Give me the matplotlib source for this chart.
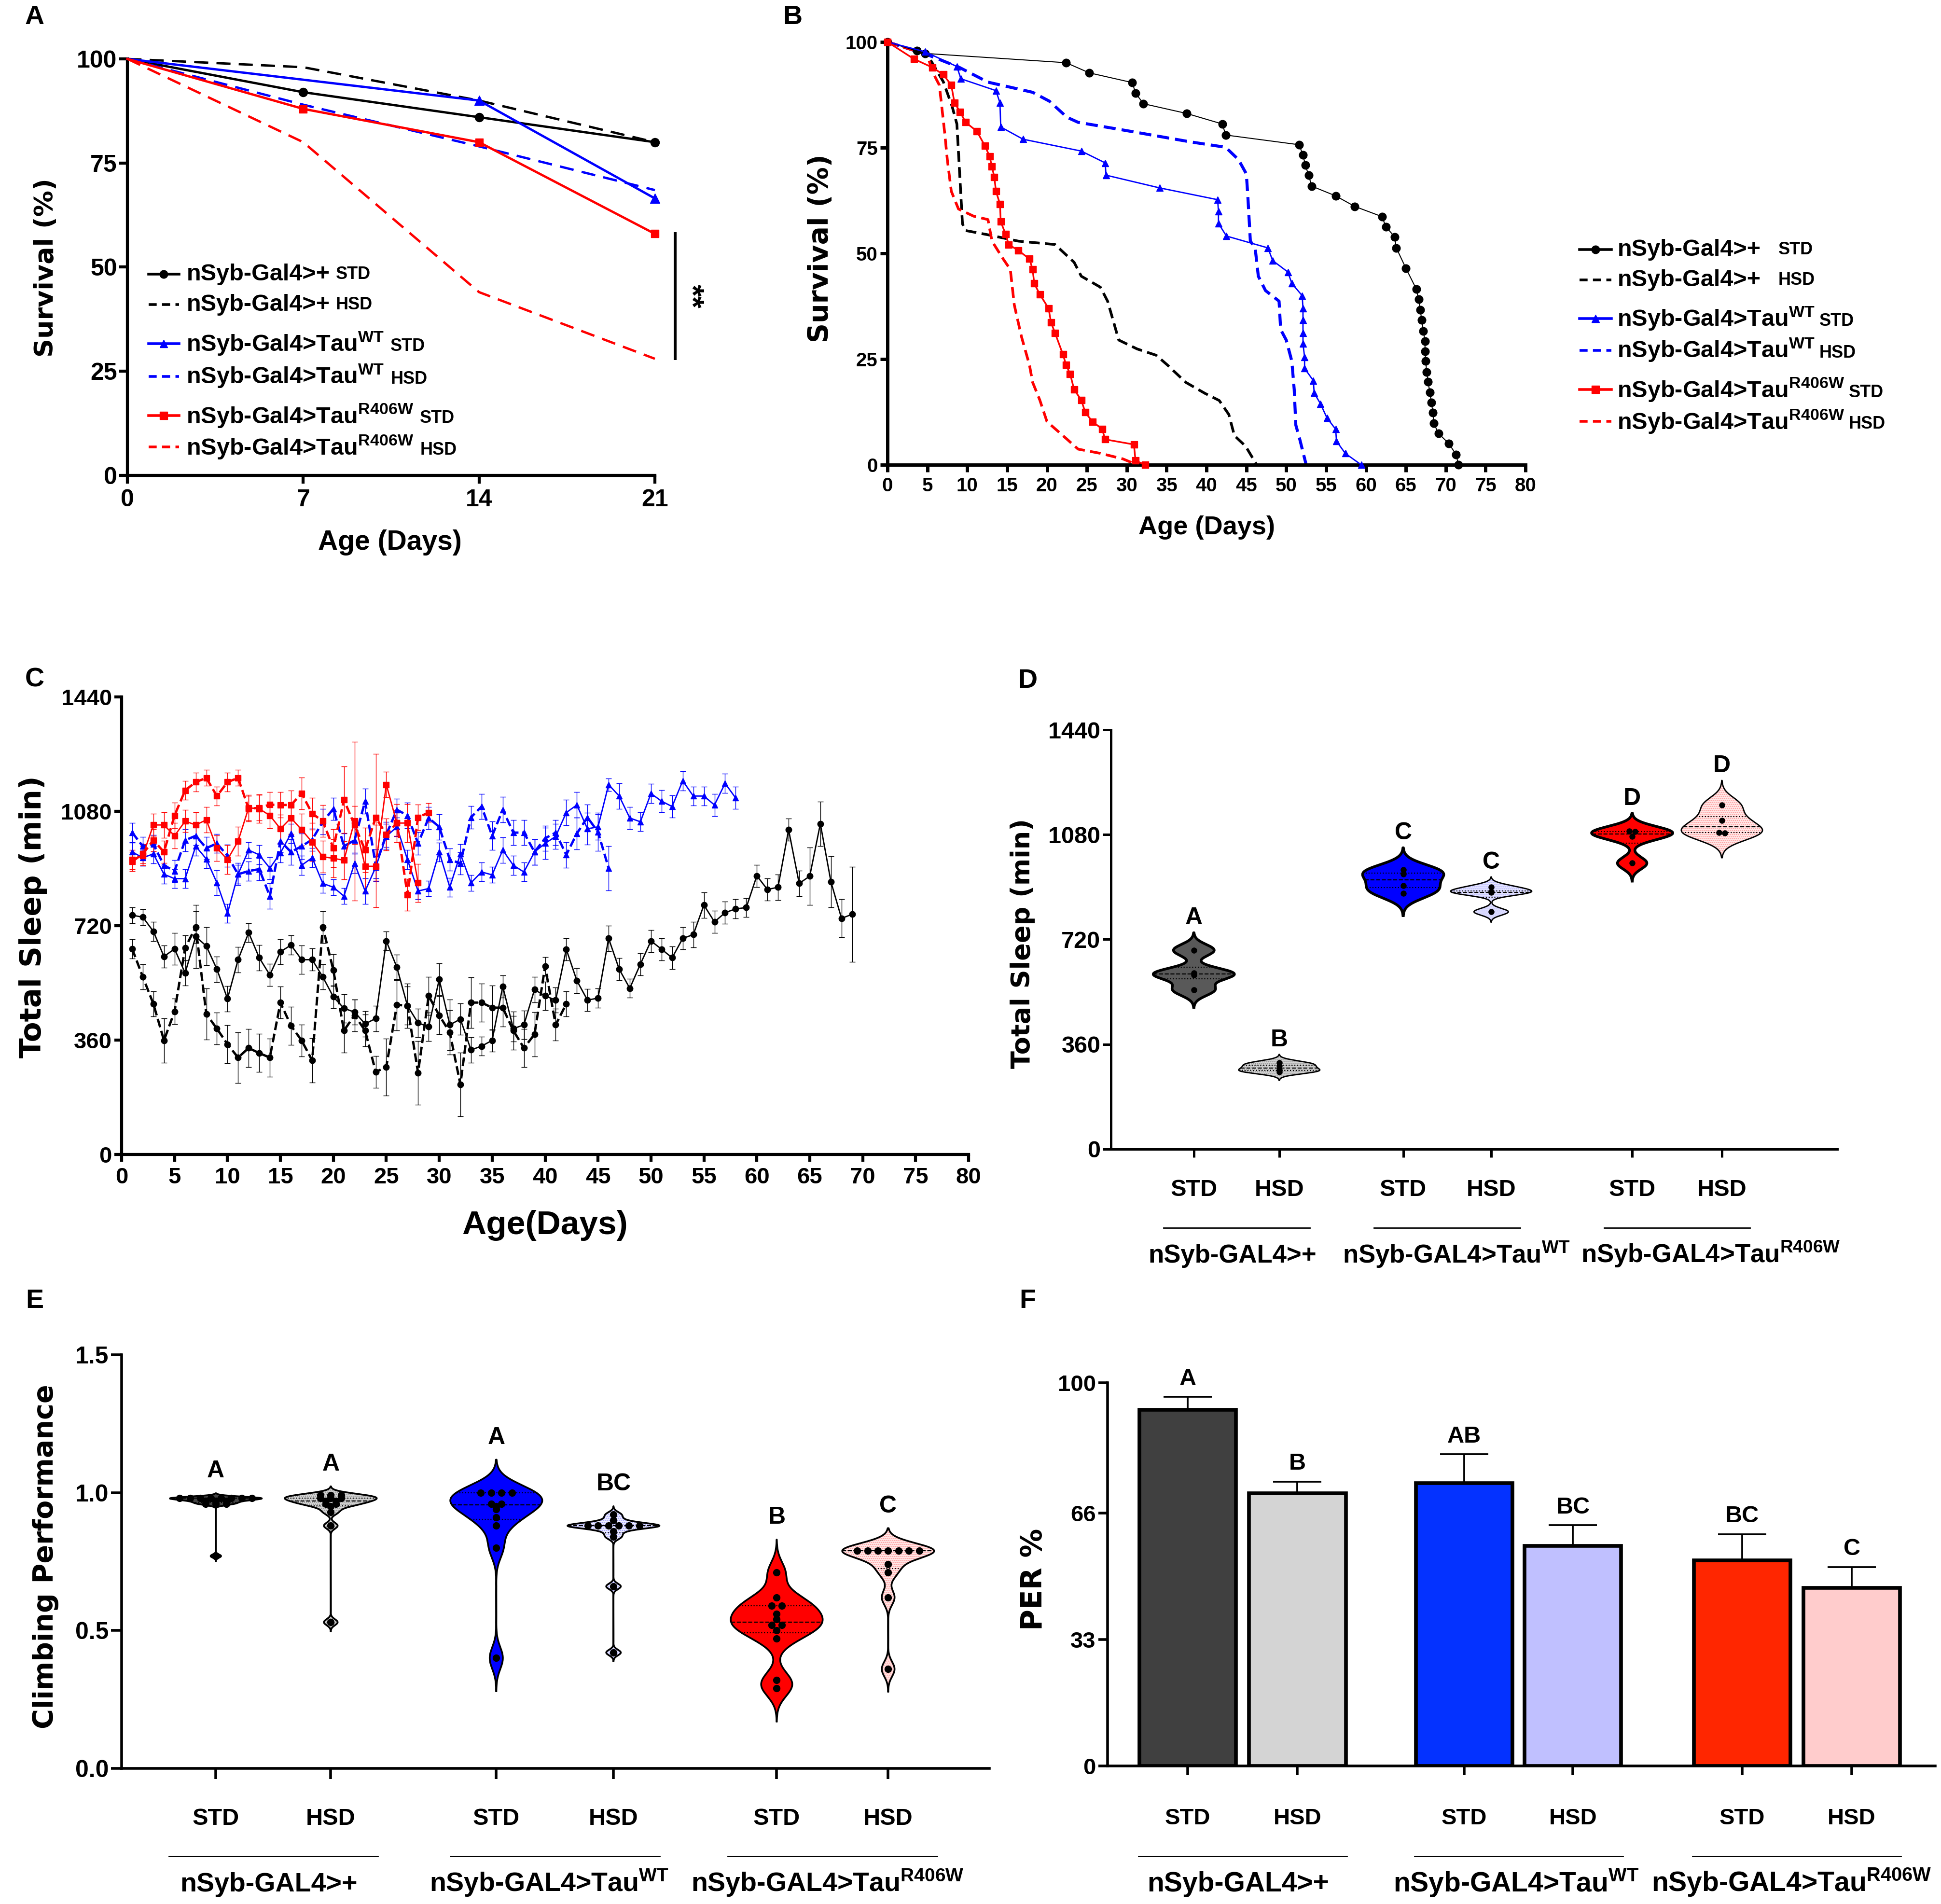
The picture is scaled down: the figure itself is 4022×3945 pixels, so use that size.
import numpy as np
import matplotlib
matplotlib.use("Agg")
import matplotlib.pyplot as plt
from matplotlib.transforms import blended_transform_factory

plt.rcParams['font.family'] = ['Liberation Sans', 'DejaVu Sans']
plt.rcParams['font.weight'] = 'bold'
plt.rcParams['mathtext.fontset'] = 'custom'
plt.rcParams['mathtext.rm'] = 'Liberation Sans:bold'
plt.rcParams['mathtext.it'] = 'Liberation Sans:bold'
plt.rcParams['mathtext.bf'] = 'Liberation Sans:bold'
plt.rcParams['hatch.linewidth'] = 1.2
HEAVY = 'DejaVu Sans'
BLACK, BLUE, RED = 'black', '#0000ff', '#ff0000'

# ---------------- data ----------------
# A: survival, 21 days
a_days = [0, 7, 14, 21]
a_ctrl_std = [100, 92, 86, 80]
a_ctrl_hsd = [100, 98, 90, 80]
a_wt_std_days = [0, 14, 21]
a_wt_std = [100, 90, 66.5]
a_wt_hsd = [100, 89, 79, 68.5]
a_r406w_std = [100, 88, 80, 58]
a_r406w_hsd = [100, 80, 44, 28]

# B: lifespan
b_ctrl_std_day = [0, 3.7, 4.7, 22.4, 25.3, 30.7, 31.1, 32.1, 37.5, 42.0, 42.4, 51.6, 52.1, 52.4, 52.8,
                  53.2, 56.2, 58.6, 62.0, 62.5, 63.6, 63.8, 65.0, 66.3, 66.6, 66.8, 67.0, 67.2, 67.4,
                  67.4, 67.5, 67.6, 67.8, 68.0, 68.2, 68.4, 68.5, 69.1, 70.4, 71.3, 71.6]
b_ctrl_std = [100, 97.9, 97.3, 95.1, 92.7, 90.4, 87.9, 85.4, 83.1, 80.6, 78.0, 75.7, 73.3, 70.9, 68.5,
              65.9, 63.6, 61.1, 58.7, 56.3, 53.9, 51.3, 46.5, 41.6, 39.1, 36.6, 34.2, 31.6, 29.2,
              26.8, 24.5, 21.9, 19.6, 17.1, 14.7, 12.3, 9.8, 7.4, 5.0, 2.4, 0]
b_ctrl_hsd_day = [0, 5, 7.0, 8.1, 8.7, 9.4, 9.8, 12.6, 16.4, 21.0, 23.4, 24.3, 26.7, 27.6, 29.0, 31.3,
                  33.7, 35.1, 37.4, 39.8, 41.6, 42.8, 43.5, 44.9, 46.3]
b_ctrl_hsd = [100, 97, 90.6, 84.8, 80.6, 57.0, 55.4, 54.4, 52.9, 52.1, 47.9, 44.6, 42.0, 38.7, 29.5, 27.4,
              25.9, 23.6, 19.5, 16.9, 15.2, 11.9, 6.9, 4.4, 0]
b_wt_std_day = [0, 4.7, 8.7, 9.2, 13.6, 14.1, 14.2, 17.0, 24.3, 27.3, 27.4, 34.1, 41.4, 41.5, 41.5, 42.5,
                47.7, 48.3, 50.2, 50.7, 52.0, 52.1, 52.1, 52.1, 52.1, 52.3, 52.3, 53.4, 53.5, 54.3, 55.1,
                56.2, 56.3, 57.4, 59.4]
b_wt_std = [100, 97.7, 94.2, 91.3, 88.5, 85.6, 79.9, 77.0, 74.2, 71.4, 68.5, 65.5, 62.7, 59.9, 57.1, 54.1,
            51.3, 48.3, 45.6, 42.9, 40.0, 37.0, 34.3, 31.2, 28.6, 25.5, 22.8, 19.9, 17.0, 14.4, 11.1,
            8.4, 5.6, 2.7, 0]
b_wt_hsd_day = [0, 5, 9, 12.6, 18.2, 20.3, 22.5, 23.9, 30.4, 37.9, 42.4, 44.0, 45.0, 45.2, 45.5, 46.1,
                46.5, 47.4, 49.1, 49.3, 50.0, 50.7, 51.0, 51.2, 51.7, 52.5]
b_wt_hsd = [100, 97, 94, 90.5, 88.1, 86.0, 82.2, 81.0, 78.9, 76.4, 75.1, 72.2, 68.8, 63.0, 52.9, 51.3,
            44.6, 41.2, 38.7, 32.0, 29.5, 24.5, 17.8, 9.4, 6.0, 0]
b_r406w_std_day = [0, 3.3, 5.6, 7.0, 8.0, 8.4, 9.1, 9.8, 11.2, 12.2, 12.8, 13.1, 13.4, 13.6, 14.1, 14.2,
                   14.8, 15.2, 16.4, 17.8, 18.2, 18.4, 19.1, 20.2, 20.5, 21.0, 22.0, 22.4, 22.9, 23.4,
                   24.3, 24.8, 25.7, 26.9, 27.3, 30.9, 31.1, 32.3]
b_r406w_std = [100, 96, 94, 92.3, 89.8, 85.6, 83.5, 81.0, 78.9, 75.5, 73.0, 70.5, 68.0, 64.7, 61.7, 57.5,
               54.6, 52.1, 50.7, 48.7, 46.2, 42.9, 40.3, 37.0, 33.7, 31.2, 26.1, 23.6, 21.5, 17.8,
               15.3, 12.4, 10.2, 8.5, 6.0, 4.8, 1.0, 0]
b_r406w_hsd_day = [0, 5, 5.6, 6.5, 6.8, 7.2, 7.5, 8.0, 8.9, 10.8, 12.6, 13.1, 14.5, 15.4, 15.9, 16.8,
                   17.8, 18.2, 19.1, 20.0, 22.0, 23.9, 26.7, 29.5, 31.3]
b_r406w_hsd = [100, 97, 93.1, 89.8, 84.8, 78.0, 72.2, 64.7, 60.5, 58.8, 58.0, 52.9, 48.7, 46.2, 37.8, 30.3,
               23.6, 19.5, 15.3, 10.2, 6.9, 3.7, 2.7, 1.4, 0]

# C: daily total sleep (mean, sem)
c_ctrl_std = [753, 747, 702, 623, 647, 571, 686, 656, 583, 490,
              613, 698, 619, 565, 638, 659, 613, 613, 559, 496,
              460, 448, 411, 428, 672, 589, 468, 414, 402, 551,
              408, 426, 329, 341, 359, 529, 396, 408, 519, 499,
              486, 646, 547, 486, 492, 680, 583, 523, 599, 672,
              646, 619, 680, 692, 785, 732, 761, 773, 777, 877,
              834, 841, 1022, 853, 876, 1041, 858, 743, 756]
c_ctrl_std_err = [25, 25, 30, 35, 50, 40, 100, 60, 40, 40,
                  40, 30, 40, 35, 40, 30, 45, 35, 40, 35,
                  45, 40, 40, 40, 30, 40, 60, 45, 45, 50,
                  80, 50, 40, 30, 35, 35, 40, 45, 40, 45,
                  40, 35, 40, 35, 30, 40, 35, 30, 35, 35,
                  35, 35, 35, 40, 40, 35, 35, 30, 30, 35,
                  35, 40, 35, 40, 90, 70, 80, 60, 150]
c_ctrl_hsd = [647, 559, 474, 359, 450, 650, 716, 442, 396, 347,
              305, 335, 319, 305, 478, 405, 359, 296, 716, 580,
              390, 438, 390, 260, 275, 471, 468, 257, 499, 438,
              384, 220, 478, 478, 462, 462, 390, 335, 378, 592,
              408, 474]
c_ctrl_hsd_err = [30, 40, 40, 70, 40, 40, 50, 80, 50, 60,
                  80, 60, 60, 60, 50, 60, 50, 70, 50, 50,
                  70, 50, 50, 50, 90, 80, 70, 100, 60, 60,
                  70, 100, 80, 60, 70, 60, 60, 60, 70, 30,
                  50, 40]
c_wt_std = [952, 934, 946, 882, 868, 868, 970, 930, 855, 759,
            882, 958, 943, 901, 949, 1010, 910, 934, 853, 841,
            813, 916, 829, 904, 1001, 1031, 928, 829, 837, 952,
            841, 946, 855, 889, 880, 958, 910, 889, 952, 979,
            1001, 1076, 1100, 1025, 1031, 1164, 1128, 1059, 1047, 1136,
            1112, 1095, 1176, 1128, 1128, 1100, 1168, 1122]
c_wt_std_err = [30, 25, 30, 30, 30, 30, 30, 30, 40, 30,
                30, 25, 30, 35, 30, 30, 30, 30, 30, 25,
                25, 30, 40, 35, 40, 30, 30, 25, 25, 30,
                30, 30, 25, 30, 25, 40, 30, 30, 40, 50,
                40, 40, 40, 50, 40, 20, 40, 35, 30, 30,
                35, 35, 30, 30, 30, 35, 30, 35]
c_wt_hsd = [1013, 970, 976, 910, 892, 989, 1003, 964, 979, 940,
            882, 892, 898, 813, 986, 952, 970, 991, 1047, 1088,
            970, 989, 1112, 910, 1007, 1085, 1067, 979, 1059, 1031,
            928, 916, 1061, 1095, 1003, 1085, 1013, 1013, 952, 995,
            1013, 943, 1010, 1061, 1015, 901]
c_wt_hsd_err = [30, 30, 30, 35, 35, 35, 30, 35, 30, 35,
                35, 30, 35, 40, 35, 40, 40, 35, 40, 35,
                40, 40, 40, 50, 40, 35, 40, 35, 35, 40,
                35, 35, 35, 40, 45, 40, 40, 40, 40, 40,
                40, 40, 50, 40, 60, 70]
c_r406w_std = [928, 940, 1037, 1037, 1003, 1049, 1037, 1053, 964, 928,
               986, 1091, 1088, 1067, 1025, 1059, 1022, 983, 937, 932,
               926, 1049, 907, 907, 1164, 1043, 1043, 855]
c_r406w_std_err = [30, 30, 35, 40, 40, 35, 40, 40, 40, 45,
                   45, 40, 45, 40, 45, 50, 50, 60, 50, 60,
                   60, 250, 80, 130, 40, 40, 60, 60]
c_r406w_hsd = [922, 946, 989, 952, 1067, 1146, 1172, 1185, 1128, 1172,
               1185, 1088, 1091, 1101, 1100, 1100, 1136, 1073, 1049, 964,
               1116, 1037, 958, 1061, 1007, 1043, 817, 1061, 1076]
c_r406w_hsd_err = [30, 30, 35, 35, 40, 30, 30, 25, 30, 30,
                   25, 40, 40, 40, 40, 45, 50, 50, 50, 60,
                   105, 60, 70, 200, 50, 60, 50, 40, 30]

# D: total sleep per fly group
d_vals = [[683, 605, 598, 547], [297, 286, 272, 265],
          [959, 944, 904, 878], [900, 883, 881, 815],
          [1092, 1090, 1073, 982], [1182, 1128, 1087, 1085]]
d_letters = ['A', 'B', 'C', 'C', 'D', 'D']

# E: climbing
e_vals = [[0.98, 0.98, 0.98, 0.98, 0.98, 0.98, 0.98, 0.98, 0.97, 0.97, 0.97, 0.96, 0.96, 0.96, 0.77],
          [0.99, 0.99, 0.99, 0.98, 0.98, 0.98, 0.97, 0.97, 0.96, 0.96, 0.95, 0.93, 0.88, 0.53],
          [1.0, 1.0, 1.0, 1.0, 0.96, 0.96, 0.95, 0.94, 0.91, 0.88, 0.80, 0.40],
          [0.92, 0.90, 0.88, 0.88, 0.88, 0.88, 0.88, 0.88, 0.86, 0.84, 0.66, 0.42],
          [0.71, 0.62, 0.59, 0.59, 0.56, 0.54, 0.52, 0.52, 0.50, 0.47, 0.32, 0.29],
          [0.79, 0.79, 0.79, 0.79, 0.79, 0.79, 0.79, 0.74, 0.71, 0.62, 0.36]]
e_letters = ['A', 'A', 'A', 'BC', 'B', 'C']

# F: PER
f_means = [93.0, 71.2, 73.8, 57.4, 53.6, 46.5]
f_sem = [3.3, 3.0, 7.5, 5.4, 6.9, 5.4]
f_letters = ['A', 'B', 'AB', 'BC', 'BC', 'C']

diet_labels = ['STD', 'HSD', 'STD', 'HSD', 'STD', 'HSD']
genotypes = ['nSyb-GAL4>+', r'nSyb-GAL4>Tau$^{\mathrm{WT}}$', r'nSyb-GAL4>Tau$^{\mathrm{R406W}}$']

# ---------------- figure ----------------
W, H = 4022, 3945
fig = plt.figure(figsize=(W / 100, H / 100), dpi=100)


def box(left, right, top, bottom):
    return [left / W, 1 - bottom / H, (right - left) / W, (bottom - top) / H]


def ftext(x, y, s, **kw):
    fig.text(x / W, 1 - y / H, s, **kw)


def style(ax, lw, tlen, tsize, xpad=3.5):
    for s in ['top', 'right']:
        ax.spines[s].set_visible(False)
    for s in ['left', 'bottom']:
        ax.spines[s].set_linewidth(lw)
    ax.tick_params(direction='out', length=tlen, width=lw, labelsize=tsize)
    ax.tick_params(axis='x', pad=xpad)


DASH = (6, 3.5)

# ---- A ----
axA = fig.add_axes(box(264, 1357, 122, 985))
style(axA, 4.5, 12, 36, xpad=8)
kw = dict(clip_on=False, lw=3.5, markevery=slice(1, None), zorder=3)
axA.plot(a_days, a_ctrl_std, color=BLACK, marker='o', ms=13, **kw)
axA.plot(a_days, a_ctrl_hsd, color=BLACK, dashes=DASH, **kw)
axA.plot(a_wt_std_days, a_wt_std, color=BLUE, marker='^', ms=14, **kw)
axA.plot(a_days, a_wt_hsd, color=BLUE, dashes=DASH, **kw)
axA.plot(a_days, a_r406w_std, color=RED, marker='s', ms=12, **kw)
axA.plot(a_days, a_r406w_hsd, color=RED, dashes=DASH, **kw)
axA.set_xlim(0, 21)
axA.set_ylim(0, 100)
axA.set_xticks(a_days)
axA.set_yticks([0, 25, 50, 75, 100])
sig_x = a_days[-1] + 0.8
axA.plot([sig_x, sig_x], [a_r406w_hsd[-1], a_r406w_std[-1]], color=BLACK, lw=4.3, clip_on=False)
axA.text(sig_x + 0.6, (a_r406w_hsd[-1] + a_r406w_std[-1]) / 2, '**', rotation=270,
         ha='center', va='center', fontsize=46)

legend_rows = [
    (BLACK, '-', 'o', 'nSyb-Gal4>+', 'STD'),
    (BLACK, '--', None, 'nSyb-Gal4>+', 'HSD'),
    (BLUE, '-', '^', r'nSyb-Gal4>Tau$^{\mathrm{WT}}$', 'STD'),
    (BLUE, '--', None, r'nSyb-Gal4>Tau$^{\mathrm{WT}}$', 'HSD'),
    (RED, '-', 's', r'nSyb-Gal4>Tau$^{\mathrm{R406W}}$', 'STD'),
    (RED, '--', None, r'nSyb-Gal4>Tau$^{\mathrm{R406W}}$', 'HSD'),
]


def draw_legend(ax, x0, x1, xt, ys, gaps, lw):
    for (col, ls, mk, main, tail), y, gap in zip(legend_rows, ys, gaps):
        if ls == '--':
            ax.plot([x0, x1], [y, y], transform=ax.transAxes, color=col, lw=lw, dashes=(3, 2), clip_on=False)
        else:
            ax.plot([x0, x1], [y, y], transform=ax.transAxes, color=col, lw=lw, clip_on=False)
            ax.plot([(x0 + x1) / 2], [y], transform=ax.transAxes, color=col, marker=mk, ms=12, clip_on=False)
        t = ax.text(xt, y, main, transform=ax.transAxes, fontsize=35, va='center', ha='left')
        ax.annotate(tail, xy=(1, 0), xycoords=t, xytext=(gap, 9), textcoords='offset points',
                    fontsize=26, va='baseline', ha='left')


draw_legend(axA, 0.040, 0.098, 0.112, [0.483, 0.410, 0.316, 0.238, 0.144, 0.068],
            [9, 9, 9, 9, 9, 9], 4)

# ---- B ----
axB = fig.add_axes(box(1839, 3161, 87, 963))
style(axB, 5, 11, 29, xpad=7)
axB.plot(b_ctrl_std_day, b_ctrl_std, color=BLACK, lw=1.5, marker='o', ms=12, clip_on=False, zorder=3)
axB.plot(b_ctrl_hsd_day, b_ctrl_hsd, color=BLACK, lw=4, dashes=(4, 2), clip_on=False)
axB.plot(b_wt_std_day, b_wt_std, color=BLUE, lw=2, marker='^', ms=10, clip_on=False, zorder=3)
axB.plot(b_wt_hsd_day, b_wt_hsd, color=BLUE, lw=4.5, dashes=(4, 2), clip_on=False)
axB.plot(b_r406w_std_day, b_r406w_std, color=RED, lw=2.5, marker='s', ms=10, clip_on=False, zorder=3)
axB.plot(b_r406w_hsd_day, b_r406w_hsd, color=RED, lw=4, dashes=(4, 2), clip_on=False)
axB.set_xlim(0, 80)
axB.set_ylim(0, 100)
axB.set_xticks(np.arange(0, 81, 5))
axB.set_yticks([0, 25, 50, 75, 100])
draw_legend(axB, 1.085, 1.135, 1.144, [0.509, 0.437, 0.346, 0.271, 0.178, 0.103],
            [26, 26, 6, 6, 6, 6], 4)

# ---- C ----
axC = fig.add_axes(box(252, 2007, 1444, 2392))
style(axC, 4.5, 11, 34, xpad=8)
c_series = [
    (c_ctrl_std, c_ctrl_std_err, BLACK, '-', 'o', 2),
    (c_ctrl_hsd, c_ctrl_hsd_err, BLACK, '--', 'o', 3.5),
    (c_wt_std, c_wt_std_err, BLUE, '-', '^', 2),
    (c_wt_hsd, c_wt_hsd_err, BLUE, '--', '^', 3.5),
    (c_r406w_std, c_r406w_std_err, RED, '-', 's', 2),
    (c_r406w_hsd, c_r406w_hsd_err, RED, '--', 's', 3.5),
]
for vals, err, col, ls, mk, lw in c_series:
    days = np.arange(1, len(vals) + 1)
    axC.errorbar(days, vals, yerr=err, color=col, ls=ls, lw=lw, marker=mk, ms=9,
                 elinewidth=1, capsize=4, capthick=1)
axC.set_xlim(0, 80)
axC.set_ylim(0, 1440)
axC.set_xticks(np.arange(0, 81, 5))
axC.set_yticks([0, 360, 720, 1080, 1440])


# ---- violin helpers ----
def violin(ax, pos, vals, face, halfw, lw, hatch_col=None):
    v = np.asarray(vals, dtype=float)
    q1, med, q3 = np.percentile(v, [25, 50, 75])
    spread = min(v.std(ddof=1), (q3 - q1) / 1.34)
    if spread <= 0:
        spread = v.std(ddof=1)
    bw = 0.9 * spread * len(v) ** -0.2
    grid = np.linspace(v.min() - 3 * bw, v.max() + 3 * bw, 600)
    dens = np.exp(-0.5 * ((grid[:, None] - v[None, :]) / bw) ** 2).sum(axis=1)
    half = dens / dens.max() * halfw
    if hatch_col:
        ax.fill_betweenx(grid, pos - half, pos + half, facecolor=face, edgecolor=hatch_col,
                         hatch='....', linewidth=0, zorder=2)
    else:
        ax.fill_betweenx(grid, pos - half, pos + half, facecolor=face, linewidth=0, zorder=2)
    ax.plot(np.r_[pos - half, (pos + half)[::-1]], np.r_[grid, grid[::-1]], color='black',
            lw=lw, zorder=3, solid_joinstyle='round')
    for q, ls in ((q1, ':'), (med, '--'), (q3, ':')):
        w = np.interp(q, grid, half)
        ax.plot([pos - w, pos + w], [q, q], color='black', lw=1.6, ls=ls, zorder=3)
    return grid[-1]


def dot_offsets(vals, res, step):
    v = np.asarray(vals, dtype=float)
    keys = np.round(v / res)
    off = np.zeros(len(v))
    for k in np.unique(keys):
        idx = np.flatnonzero(keys == k)
        off[idx] = (np.arange(len(idx)) - (len(idx) - 1) / 2) * step
    return off


def group_labels(ax, pos, name_x, std_y, line_y, name_y, half, small, big):
    tr = blended_transform_factory(ax.transData, ax.transAxes)
    for p, lab in zip(pos, diet_labels):
        ax.text(p, std_y, lab, transform=tr, ha='center', va='baseline', fontsize=small)
    for i, (nx, name) in enumerate(zip(name_x, genotypes)):
        c = (pos[2 * i] + pos[2 * i + 1]) / 2
        ax.plot([c - half, c + half], [line_y, line_y], transform=tr, color='black', lw=2, clip_on=False)
        ax.text(nx, name_y, name, transform=tr, ha='center', va='baseline', fontsize=big)


v_faces = ['#595959', '#d9d9d9', '#0000ff', '#f0f0ff', '#ff0000', '#ffe8e8']
v_hatch = [None, '#8a8a8a', None, '#9a9aff', None, '#ff9a9a']

# ---- D ----
axD = fig.add_axes(box(2302, 3807, 1512, 2381))
style(axD, 3.6, 12, 35)
d_pos = [0, 1, 2.45, 3.48, 5.13, 6.18]
for i, (p, vals) in enumerate(zip(d_pos, d_vals)):
    top = violin(axD, p, vals, v_faces[i], 0.475, 4 if i % 2 == 0 else 2, v_hatch[i])
    axD.plot(p + dot_offsets(vals, 5, 0.07), vals, 'o', color='black', ms=8, ls='none', zorder=4)
    axD.text(p, top + 50, d_letters[i], ha='center', va='center', fontsize=36)
axD.set_xlim(-0.97, 7.53)
axD.set_ylim(0, 1440)
axD.set_yticks([0, 360, 720, 1080, 1440])
axD.set_xticks(d_pos)
axD.set_xticklabels([])
group_labels(axD, d_pos, [0.45, 3.07, 6.05], -0.112, -0.1876, -0.271, 0.855, 35, 38)

# ---- E ----
axE = fig.add_axes(box(252, 2050, 2807, 3664))
style(axE, 4, 16, 36)
e_pos = [0, 1, 2.44, 3.46, 4.88, 5.85]
for i, (p, vals) in enumerate(zip(e_pos, e_vals)):
    top = violin(axE, p, vals, v_faces[i] if i != 0 else '#444444', 0.40, 2.6, v_hatch[i])
    axE.plot(p + dot_offsets(vals, 0.01, 0.09), vals, 'o', color='black', ms=10, ls='none', zorder=4)
    axE.text(p, top + 0.08, e_letters[i], ha='center', va='center', fontsize=36)
axE.set_xlim(-0.82, 6.73)
axE.set_ylim(0, 1.5)
axE.set_yticks([0.0, 0.5, 1.0, 1.5])
axE.set_yticklabels(['0.0', '0.5', '1.0', '1.5'])
axE.set_xticks(e_pos)
axE.set_xticklabels([])
group_labels(axE, e_pos, [0.46, 2.90, 5.32], -0.1365, -0.212, -0.2975, 0.91, 35, 40)

# ---- F ----
axF = fig.add_axes(box(2295, 4010, 2865, 3659))
style(axF, 4, 14, 34)
f_pos = [0, 1, 2.52, 3.51, 5.05, 6.05]
f_colors = ['#404040', '#d4d4d4', '#0432ff', '#c0c0ff', '#ff2600', '#ffcccc']
axF.errorbar(f_pos, f_means, yerr=[np.zeros(len(f_sem)), f_sem], fmt='none', ecolor='black',
             elinewidth=2.7, capsize=36, capthick=2.7, zorder=1)
axF.bar(f_pos, f_means, width=0.88, color=f_colors, edgecolor='black', linewidth=5.5, zorder=2)
for p, m, s, lab in zip(f_pos, f_means, f_sem, f_letters):
    axF.text(p, m + s + 4.7, lab, ha='center', va='center', fontsize=35)
axF.set_xlim(-0.73, 6.81)
axF.set_ylim(0, 100)
axF.set_yticks([0, 33, 66, 100])
axF.set_xticks(f_pos)
axF.set_xticklabels([])
group_labels(axF, f_pos, [0.46, 2.99, 5.50], -0.152, -0.2355, -0.327, 0.95, 34, 41)

# ---- labels ----
for x, y, s in [(72, 36, 'A'), (1642, 36, 'B'), (72, 1408, 'C'), (2129, 1411, 'D'),
                (72, 2696, 'E'), (2129, 2696, 'F')]:
    ftext(x, y, s, fontsize=40, ha='center', va='center')
for x, y, s, size in [(95, 555, 'Survival (%)', 39), (1700, 515, 'Survival (%)', 41),
                      (69, 1900, 'Total Sleep (min)', 44), (2119, 1955, 'Total Sleep (min)', 39),
                      (95, 3225, 'Climbing Performance', 41), (2142, 3272, 'PER %', 43)]:
    ftext(x, y, s, fontsize=size, family=HEAVY, rotation=90, ha='center', va='center')
ftext(808, 1124, 'Age (Days)', fontsize=41, ha='center', va='center')
ftext(2501, 1093, 'Age (Days)', fontsize=39, ha='center', va='center')
ftext(1129, 2539, 'Age(Days)', fontsize=50, ha='center', va='center')

fig.savefig('out.png', dpi=100)
